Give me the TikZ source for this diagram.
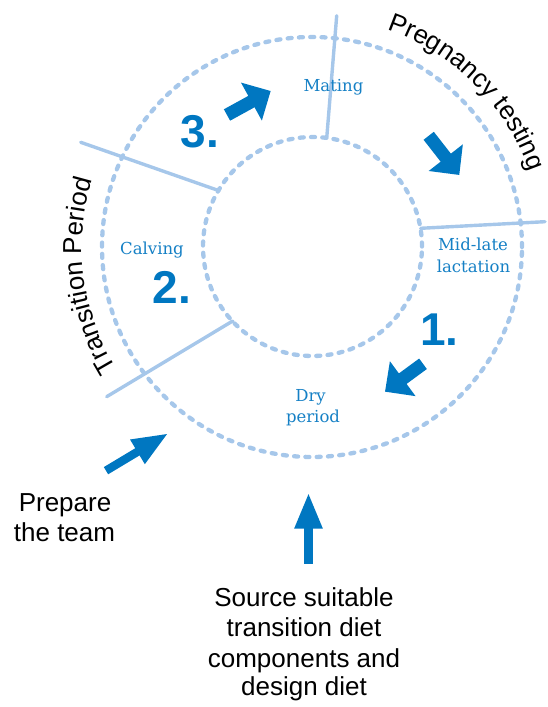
\documentclass[tikz,border=0pt]{standalone}
\usepackage{fontspec}
\setmainfont{Liberation Sans}
\newfontfamily\slabfont{DejaVu Serif}
\usetikzlibrary{arrows.meta,calc,decorations.text}
\definecolor{arrowblue}{HTML}{0077C1}
\definecolor{textblue}{HTML}{1580C5}
\definecolor{ringblue}{HTML}{A6C7EA}
\begin{document}
\begin{tikzpicture}[x=1pt,y=1pt,
  ring/.style={draw=ringblue, line width=4.3pt, dash pattern=on 4pt off 7.3pt, line cap=round},
  divider/.style={draw=ringblue, line width=3.4pt, line cap=round},
  stagelabel/.style={text=textblue, font=\slabfont\fontsize{16.5}{16.5}\selectfont, inner sep=0pt, anchor=base},
  bignum/.style={text=arrowblue, font=\bfseries\fontsize{46}{46}\selectfont, inner sep=0pt, anchor=base west},
  blacklabel/.style={text=black, font=\fontsize{26}{26}\selectfont, inner sep=0pt, anchor=base},
  bigarrow/.style={draw=arrowblue, line width=13pt, -{Triangle[length=22pt,width=42pt]}},
  slimarrow/.style={draw=arrowblue, line width=8.4pt, -{Triangle[length=36pt,width=26pt]}},
]
\useasboundingbox (0,0) rectangle (548,707);
\coordinate (C) at (312,460);
\coordinate (Ci) at (312.5,460.5);
\draw[ring] (C) circle[radius=210pt];
\draw[ring] (Ci) circle[radius=109.5pt];

% dividers
\coordinate (d1a) at (336.7,691.3); \coordinate (d1b) at (326.7,568.7);
\coordinate (d2a) at (420.7,478.7); \coordinate (d2b) at (545,485.3);
\coordinate (d3a) at (80.7,564.7);  \coordinate (d3b) at (219,516.3);
\coordinate (d4a) at (232.7,386);   \coordinate (d4b) at (106.7,310.3);
\draw[divider] (d1a) -- (d1b);
\draw[divider] (d2a) -- (d2b);
\draw[divider] (d3a) -- (d3b);
\draw[divider] (d4a) -- (d4b);

% curved labels
\path[decorate, decoration={text along path, text align=left,
  text={|\fontsize{26}{26}\selectfont|Pregnancy testing}}]
  ($(C)+(71:230pt)$) arc[start angle=71, end angle=5, radius=230pt];
\path[decorate, decoration={text along path, text align=left,
  text={|\fontsize{26}{26}\selectfont|Transition Period}}]
  ($(C)+(212:230pt)$) arc[start angle=212, end angle=145, radius=230pt];

% stage labels
\node[stagelabel] (mating) at (333.5,615) {Mating};
\node[stagelabel] (calving) at (152,452) {Calving};
\node[stagelabel] (midlate) at (473,456) {Mid-late};
\node[stagelabel] (lactation) at (473.5,434) {lactation};
\node[stagelabel] (dry) at (310.5,305.3) {Dry};
\node[stagelabel] (period) at (313,284.3) {period};

% numbers
\node[bignum] (n3) at (180.5,559) {3.};
\node[bignum] (n2) at (152.5,403) {2.};
\node[bignum] (n1) at (420,361) {1.};

% black labels
\node[blacklabel] (prep1) at (65,195) {Prepare};
\node[blacklabel] (prep2) at (64.5,165) {the team};
\node[blacklabel] (src1) at (304,100) {Source suitable};
\node[blacklabel] (src2) at (304,70) {transition diet};
\node[blacklabel] (src3) at (304,39) {components and};
\node[blacklabel] (src4) at (304,12) {design diet};

% arrows
\coordinate (a3t) at (227,592);     \coordinate (a3h) at (270.7,616);
\coordinate (apt) at (428.7,571.2); \coordinate (aph) at (459.3,532);
\coordinate (a1t) at (423,343.2);   \coordinate (a1h) at (385,315.3);
\coordinate (art) at (106,236.3);   \coordinate (arh) at (168.3,273.7);
\coordinate (aut) at (308.5,143);   \coordinate (auh) at (308.5,214.3);
\draw[bigarrow] (a3t) -- (a3h);
\draw[bigarrow] (apt) -- (aph);
\draw[bigarrow] (a1t) -- (a1h);
\draw[slimarrow] (art) -- (arh);
\draw[slimarrow] (aut) -- (auh);
\end{tikzpicture}
\end{document}
